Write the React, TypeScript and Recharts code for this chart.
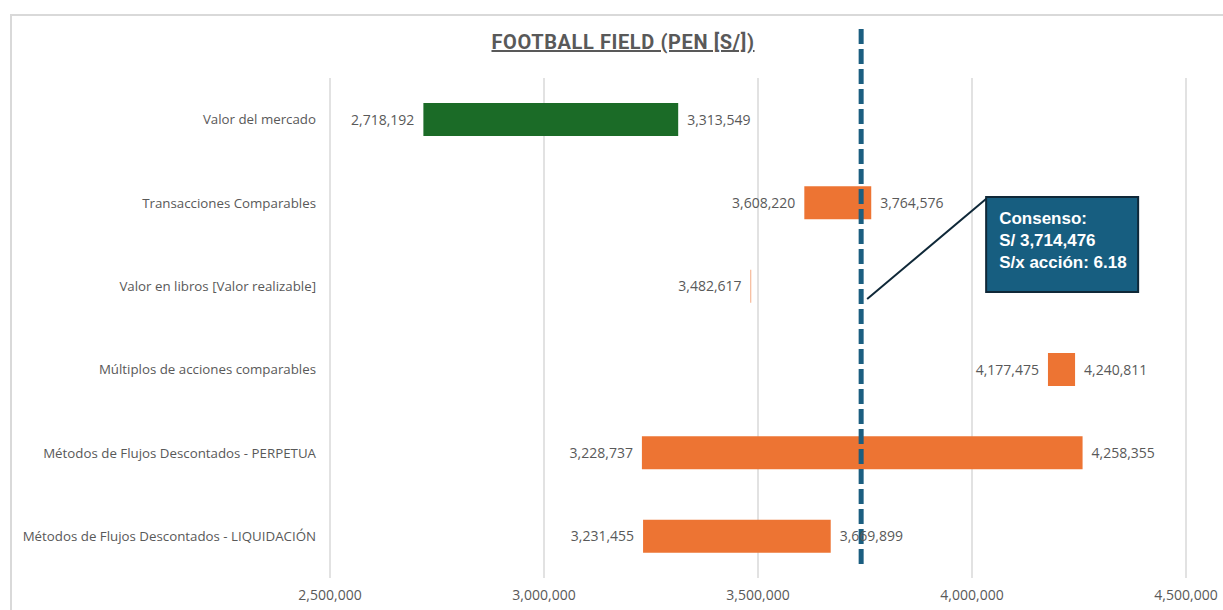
import { BarChart, Bar, XAxis, YAxis, CartesianGrid, ReferenceLine, LabelList, Cell } from 'recharts';

const METHODS = [
  'Valor del mercado',
  'Transacciones Comparables',
  'Valor en libros [Valor realizable]',
  'Múltiplos de acciones comparables',
  'Métodos de Flujos Descontados - PERPETUA',
  'Métodos de Flujos Descontados - LIQUIDACIÓN',
];
const LOW = [2718192, 3608220, 3482617, 4177475, 3228737, 3231455];
const HIGH = [3313549, 3764576, 3484000, 4240811, 4258355, 3669899];
const SHOW_HIGH = [true, true, false, true, true, true];
const BAR_COLORS = ['#1B6B27', '#ED7433', '#ED7433', '#ED7433', '#ED7433', '#ED7433'];
const X_TICKS = [2500000, 3000000, 3500000, 4000000, 4500000];

// dashed line is drawn where the sheet put it, the box shows the computed value
const CONSENSUS_LINE = 3741000;
const CONSENSUS_TEXT = ['Consenso:', 'S/ 3,714,476', 'S/x acción: 6.18'];

const data = METHODS.map((name, i) => ({ name, range: [LOW[i], HIGH[i]] }));

const fmt = (v: number) => v.toLocaleString('en-US');
const FONT = '"Open Sans", sans-serif';
const GREY = '#595959';

const LowLabel = (props: any) => {
  const { x, y, height, index } = props;
  return (
    <text x={x - 9} y={y + height / 2} dy={5} textAnchor="end" fontSize={14} fill={GREY} fontFamily={FONT}>
      {fmt(LOW[index])}
    </text>
  );
};

const HighLabel = (props: any) => {
  const { x, y, width, height, index } = props;
  if (!SHOW_HIGH[index]) return null;
  return (
    <text x={x + width + 9} y={y + height / 2} dy={5} textAnchor="start" fontSize={14} fill={GREY} fontFamily={FONT}>
      {fmt(HIGH[index])}
    </text>
  );
};

const ConsensusShape = (props: any) => {
  const { x1, y1, y2 } = props;
  const top = Math.min(y1, y2);
  const bottom = Math.max(y1, y2);
  const bx = x1 + 125;
  const by = top + 119;
  return (
    <g>
      <line x1={x1} x2={x1} y1={top - 49} y2={bottom - 10} stroke="#1B5E80" strokeWidth={5} strokeDasharray="15 5" />
      <line x1={x1 + 6} y1={top + 221} x2={bx + 1} y2={by + 1} stroke="#0F2838" strokeWidth={2} />
      <rect x={bx} y={by} width={152} height={95} fill="#175E80" stroke="#0F2838" strokeWidth={2} />
      {CONSENSUS_TEXT.map((t, i) => (
        <text key={t} x={bx + 13} y={by + 27 + i * 22} fill="#ffffff" fontSize={17} fontWeight="bold" fontFamily='"Liberation Sans", Arial, sans-serif'>
          {t}
        </text>
      ))}
    </g>
  );
};

export default function App() {
  return (
    <div style={{ position: 'absolute', left: 0, top: 0, width: 1223, height: 610, overflow: 'hidden', background: '#fff' }}>
      <div style={{ position: 'absolute', left: 10, top: 14, width: 1240, height: 620, border: '2px solid #D9D9D9' }} />
      <div
        style={{
          position: 'absolute', left: 0, width: 1246, top: 31, textAlign: 'center', lineHeight: '22px',
          fontFamily: 'Roboto, sans-serif', fontWeight: 700, fontSize: 20, letterSpacing: 0.6, color: GREY, textDecoration: 'underline',
        }}
      >
        FOOTBALL FIELD (PEN [S/])
      </div>
      <div style={{ position: 'absolute', left: 0, top: 0 }}>
        <BarChart
          width={1223}
          height={610}
          layout="vertical"
          data={data}
          margin={{ top: 78, right: 37, left: 0, bottom: 0 }}
          barCategoryGap={0}
          style={{ fontFamily: FONT }}
        >
          <CartesianGrid horizontal={false} stroke="#D9D9D9" strokeWidth={1.5} />
          <XAxis
            type="number"
            domain={[2500000, 4500000]}
            ticks={X_TICKS}
            tickFormatter={fmt}
            axisLine={false}
            tickLine={false}
            tickMargin={6}
            height={32}
            tick={{ fontSize: 14, fill: GREY }}
          />
          <YAxis
            type="category"
            dataKey="name"
            width={330}
            axisLine={false}
            tickLine={false}
            tickMargin={8}
            tick={{ fontSize: 13.3, fill: GREY }}
          />
          <Bar dataKey="range" barSize={33} isAnimationActive={false}>
            {data.map((d, i) => (
              <Cell key={d.name} fill={BAR_COLORS[i]} />
            ))}
            <LabelList content={<LowLabel />} />
            <LabelList content={<HighLabel />} />
          </Bar>
          <ReferenceLine x={CONSENSUS_LINE} shape={(p: any) => <ConsensusShape {...p} />} />
        </BarChart>
      </div>
    </div>
  );
}
